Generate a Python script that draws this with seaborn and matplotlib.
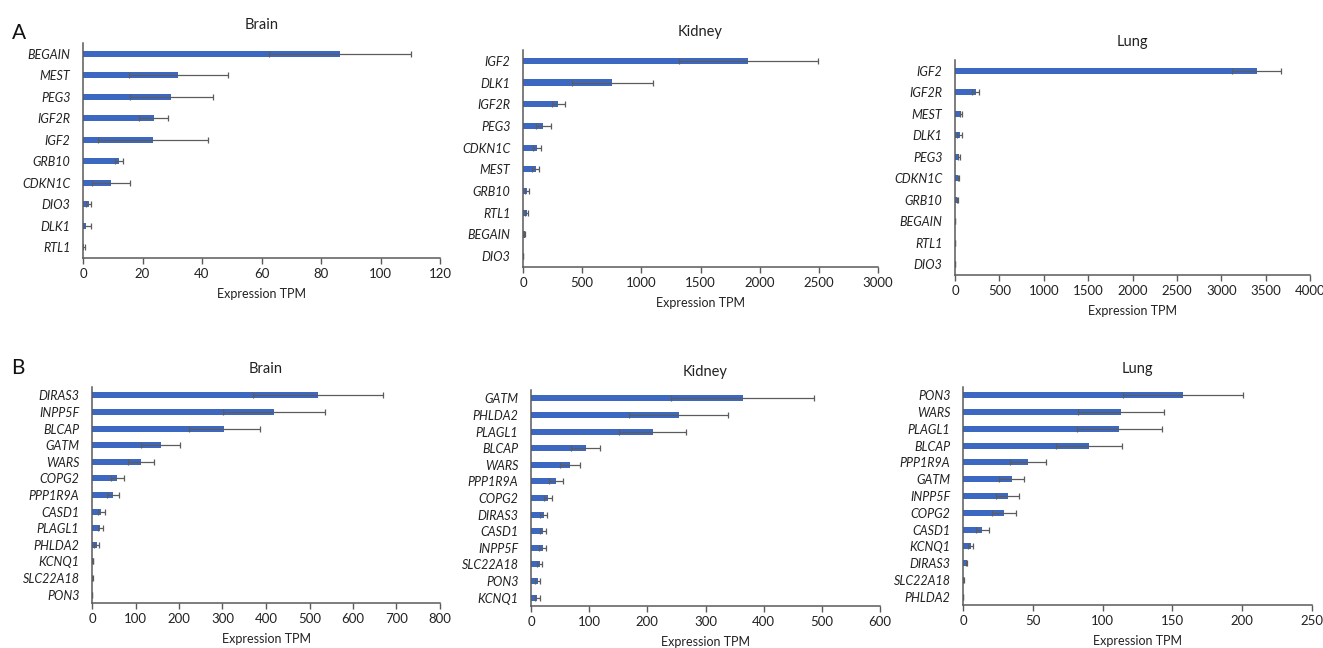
import matplotlib
matplotlib.use("Agg")
import matplotlib.pyplot as plt
import seaborn as sns
import pandas as pd
import numpy as np

# ---------------- data ----------------
a_brain_genes = ["BEGAIN", "MEST", "PEG3", "IGF2R", "IGF2", "GRB10", "CDKN1C", "DIO3", "DLK1", "RTL1"]
a_brain_vals = [86.4, 32.1, 29.7, 23.7, 23.5, 12.0, 9.5, 1.9, 0.9, 0.3]
a_brain_err = [24.0, 16.6, 14.0, 5.0, 18.4, 1.4, 6.4, 0.8, 1.9, 0.5]

a_kidney_genes = ["IGF2", "DLK1", "IGF2R", "PEG3", "CDKN1C", "MEST", "GRB10", "RTL1", "BEGAIN", "DIO3"]
a_kidney_vals = [1905, 754, 299, 172, 119, 107, 34, 31, 14, 3]
a_kidney_err = [587, 341, 54, 65, 36, 28, 17, 14, 6, 1]

a_lung_genes = ["IGF2", "IGF2R", "MEST", "DLK1", "PEG3", "CDKN1C", "GRB10", "BEGAIN", "RTL1", "DIO3"]
a_lung_vals = [3398, 233, 71, 53, 45, 38, 26, 4, 3, 2]
a_lung_err = [275, 38, 12, 26, 11, 7, 8, 1, 1, 1]

b_brain_genes = ["DIRAS3", "INPP5F", "BLCAP", "GATM", "WARS", "COPG2", "PPP1R9A", "CASD1", "PLAGL1",
                 "PHLDA2", "KCNQ1", "SLC22A18", "PON3"]
b_brain_vals = [520, 418, 304, 158, 113, 58, 48, 21, 19, 11, 2.3, 0.8, 0.4]
b_brain_err = [149, 117, 82, 45, 30, 15, 13, 8, 6, 6, 1, 0.5, 0.3]

b_kidney_genes = ["GATM", "PHLDA2", "PLAGL1", "BLCAP", "WARS", "PPP1R9A", "COPG2", "DIRAS3", "CASD1",
                  "INPP5F", "SLC22A18", "PON3", "KCNQ1"]
b_kidney_vals = [364, 254, 209, 94, 67, 42.5, 29, 22, 21, 20, 15, 11.5, 11]
b_kidney_err = [123, 85, 57, 25, 18, 12, 7, 6, 5, 6, 4.5, 4, 4]

b_lung_genes = ["PON3", "WARS", "PLAGL1", "BLCAP", "PPP1R9A", "GATM", "INPP5F", "COPG2", "CASD1",
                "KCNQ1", "DIRAS3", "SLC22A18", "PHLDA2"]
b_lung_vals = [157.7, 113.3, 111.9, 90.1, 46.6, 34.9, 32.0, 29.4, 13.9, 5.5, 2.6, 0.5, 0.2]
b_lung_err = [43.0, 30.6, 30.5, 23.7, 12.9, 9.1, 8.4, 8.4, 4.5, 1.7, 0.5, 0.2, 0.1]

titles = ["Brain", "Kidney", "Lung", "Brain", "Kidney", "Lung"]
xlims = [120, 3000, 4000, 800, 600, 250]
xsteps = [20, 500, 500, 100, 100, 50]

# ---------------- style ----------------
sns.set_theme(style="white")
plt.rcParams["font.family"] = ["Lato", "DejaVu Sans"]
BAR = "#3D68C1"
AXC = "#5a5a5a"

W, H = 1323, 648
fig = plt.figure(figsize=(W / 100, H / 100), dpi=100)
fig.patch.set_facecolor("white")

# axes boxes in pixels: left, right, top, bottom
boxes = [
    (83, 440, 43, 258),
    (523, 878, 50, 267),
    (955, 1310, 60, 275),
    (92, 440, 387, 603),
    (531, 880, 390, 606),
    (963, 1312, 387, 605),
]

panels = [
    (a_brain_genes, a_brain_vals, a_brain_err),
    (a_kidney_genes, a_kidney_vals, a_kidney_err),
    (a_lung_genes, a_lung_vals, a_lung_err),
    (b_brain_genes, b_brain_vals, b_brain_err),
    (b_kidney_genes, b_kidney_vals, b_kidney_err),
    (b_lung_genes, b_lung_vals, b_lung_err),
]

for i, ((genes, vals, errs), (l, r, t, b)) in enumerate(zip(panels, boxes)):
    ax = fig.add_axes([l / W, 1 - b / H, (r - l) / W, (b - t) / H])
    df = pd.DataFrame({"gene": genes, "tpm": vals, "sd": errs})
    width = 0.29 if len(genes) == 10 else 0.36
    sns.barplot(data=df, x="tpm", y="gene", orient="h", color=BAR, width=width,
                saturation=1, errorbar=None, ax=ax, linewidth=0)
    ax.errorbar(df["tpm"], np.arange(len(df)), xerr=df["sd"], fmt="none",
                ecolor="#5c5c5c", elinewidth=0.9, capsize=2, capthick=0.9, zorder=3)
    ax.set_xlim(0, xlims[i])
    ax.set_ylim(len(genes) - 0.5, -0.5)
    ax.set_xticks(np.arange(0, xlims[i] + 1, xsteps[i]))
    ax.tick_params(axis="x", bottom=True, length=4, width=1.0, color=AXC,
                   labelsize=9.5, labelcolor="#222222", pad=3)
    ax.tick_params(axis="y", left=False, labelsize=9, labelcolor="#222222", pad=3)
    for lab in ax.get_yticklabels():
        lab.set_fontstyle("italic")
    for s in ["top", "right"]:
        ax.spines[s].set_visible(False)
    for s in ["left", "bottom"]:
        ax.spines[s].set_color(AXC)
        ax.spines[s].set_linewidth(1.1)
    ax.set_ylabel("")
    ax.set_xlabel("Expression TPM", fontsize=9, color="#222222", labelpad=6)
    ax.set_title(titles[i], fontsize=10.5, color="#222222", pad=10)
    ax.grid(False)

fig.text(19 / W, 1 - 33 / H, "A", fontsize=15, color="#111111", ha="center", va="center")
fig.text(18 / W, 1 - 368 / H, "B", fontsize=15, color="#111111", ha="center", va="center")

fig.savefig("out.png", dpi=100, facecolor="white")
